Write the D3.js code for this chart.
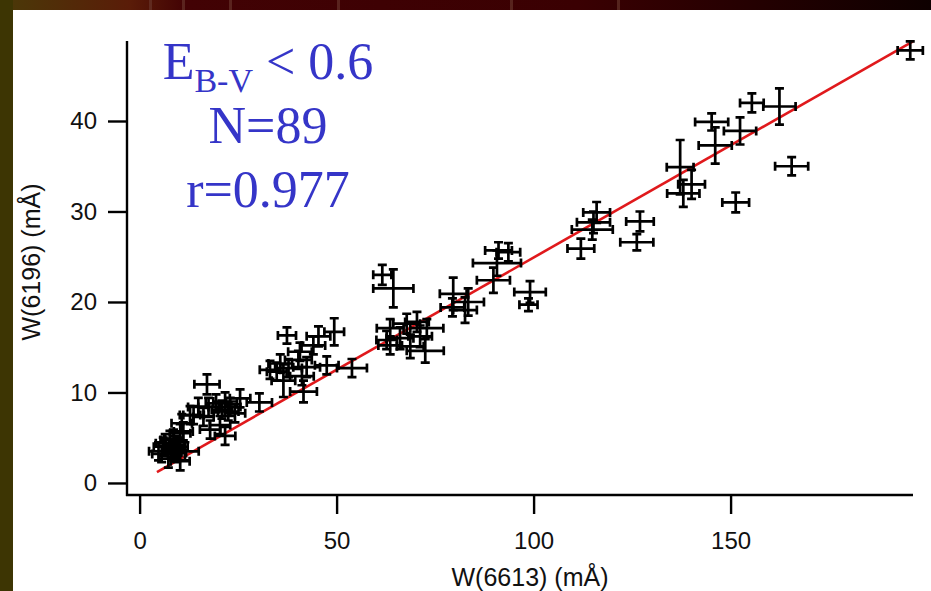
<!DOCTYPE html>
<html><head><meta charset="utf-8">
<script src="https://cdn.jsdelivr.net/npm/d3@7"></script>
<style>html,body{margin:0;padding:0;background:#fff;}svg{display:block;}</style>
</head><body>
<svg id="chart" width="931" height="591"></svg>
<script>
// W(6613) values (mÅ)
const xVals = [195.6,155.4,162.4,145.2,152.4,146.1,165.5,137.2,140.1,138.0,151.3,116.0,115.2,127.0,114.9,126.2,112.0,
  91.1,93.6,90.7,89.8,99.1,98.7,79.6,83.4,82.6,79.4,61.6,64.4,
  63.6,67.8,70.4,72.9,62.7,66.1,63.6,68.7,72.5,71.2,
  37.4,45.4,49.4,44.1,40.7,40.3,35.7,33.1,37.8,42.4,47.5,53.9,36.5,41.2,41.6,34.8,30.4,
  17.1,25.5,21.7,23.0,20.9,24.2,14.9,17.5,13.7,16.2,10.7,20.4,17.9,21.7,10.3,8.6,6.5,9.8,4.8,8.2,11.5,7.3,10.3,9.0,6.0,8.6,11.1,12.8,19.4,7.7,9.4,5.6,22.5];
// W(6196) values (mÅ)
const yVals = [47.8,42.0,41.6,39.9,38.9,37.3,35.0,34.9,33.0,32.0,31.0,29.9,28.8,28.9,28.0,26.6,25.9,
  25.7,25.5,24.3,22.4,21.1,19.7,20.9,20.0,19.1,19.4,23.0,21.5,
  17.1,17.6,17.8,17.1,15.8,16.0,15.2,15.1,14.6,16.2,
  16.3,16.2,16.7,15.2,14.5,13.6,13.2,12.5,12.7,12.8,13.0,12.7,11.3,11.8,10.1,12.3,8.9,
  10.9,9.35,9.0,8.4,8.1,7.7,8.4,8.4,7.5,7.3,6.6,6.4,5.9,5.2,5.5,4.9,4.4,4.0,3.5,3.5,3.5,2.7,2.4,4.2,4.0,3.8,5.7,7.5,8.8,4.75,3.3,3.2,7.9];
// x errors
const xErr = [3.2,3.0,4.1,4.2,4.1,4.2,4.2,3.4,3.4,4.1,3.4,3.4,4.2,3.5,5.2,4.2,3.4,
  3.4,3.0,6.1,4.2,4.0,2.3,3.4,4.0,3.0,3.0,2.3,5.1,
  3.4,3.4,3.0,4.2,2.6,3.4,3.0,3.4,4.7,3.0,
  2.3,3.0,2.5,3.0,3.0,3.4,3.0,2.6,3.4,3.4,3.0,3.8,3.0,3.0,3.4,2.5,3.2,
  3.2,2.6,3.0,2.6,2.6,2.6,2.6,2.6,2.6,2.6,2.6,2.6,2.6,2.6,2.6,2.4,2.4,2.4,2.4,2.4,3.5,2.4,2.4,2.4,2.4,2.4,2.4,2.6,2.6,2.4,2.4,2.4,2.6];
// y errors
const yErr = [1.0,1.05,2.0,0.95,1.5,2.0,1.0,3.0,1.6,1.5,1.1,1.15,1.2,1.1,1.1,0.9,1.1,
  0.9,1.0,1.4,1.4,1.2,0.7,1.8,1.5,1.4,1.0,1.1,2.1,
  1.0,1.1,1.1,1.0,1.0,1.2,1.0,1.3,1.3,1.2,
  0.9,1.1,1.5,1.0,1.0,1.0,1.0,1.0,1.0,1.1,1.0,1.0,1.8,1.0,1.2,1.0,1.0,
  1.1,1.0,1.0,1.0,1.0,1.0,1.0,1.0,1.0,1.0,1.0,1.0,1.0,1.0,1.0,1.0,1.0,1.0,1.0,1.0,1.0,1.0,1.0,1.0,1.0,0.9,1.0,1.0,1.0,1.0,1.0,0.9,1.0];
// fit line y = a + b x
const fitX = [4.4, 196.3];
const fitA = 0.11, fitB = 0.248;
const xTicks = [0, 50, 100, 150];
const yTicks = [0, 10, 20, 30, 40];
const annot = ["N=89", "r=0.977"];

const svg = d3.select("#chart");
// background frame
svg.append("rect").attr("x",0).attr("y",0).attr("width",931).attr("height",591).attr("fill","#fff");
const grad = svg.append("defs").append("linearGradient").attr("id","topg").attr("x1","0").attr("x2","1");
[[0,"#4a3a08"],[0.14,"#5a1c08"],[0.2,"#420204"],[0.62,"#3a0002"],[1,"#0e0000"]].forEach(s=>
  grad.append("stop").attr("offset",s[0]).attr("stop-color",s[1]));
svg.append("rect").attr("x",0).attr("y",0).attr("width",931).attr("height",10).attr("fill","url(#topg)");
[149,182,229,337,510,617].forEach(v=>svg.append("rect").attr("x",v).attr("y",0).attr("width",3).attr("height",10).attr("fill","#6a3a30").attr("opacity",0.6));
svg.append("rect").attr("x",0).attr("y",0).attr("width",13).attr("height",591).attr("fill","#3d3503");

const x = d3.scaleLinear().domain([-3.2, 196.3]).range([127, 913]);
const y = d3.scaleLinear().domain([-1.33, 48.84]).range([495, 41]);

const font = "Liberation Sans, Arial, sans-serif";
const xAxis = svg.append("g").attr("transform","translate(0,495)")
  .call(d3.axisBottom(x).tickValues(xTicks).tickSize(19).tickPadding(18).tickSizeOuter(0));
const yAxis = svg.append("g").attr("transform","translate(127,0)")
  .call(d3.axisLeft(y).tickValues(yTicks).tickSize(19).tickPadding(11).tickSizeOuter(0));
[xAxis,yAxis].forEach(g=>{
  g.select(".domain").attr("stroke","#000").attr("stroke-width",2.4);
  g.selectAll(".tick line").attr("stroke","#000").attr("stroke-width",2.4);
  g.selectAll(".tick text").attr("fill","#111").style("font-family",font).style("font-size","24px");
});
// extend domains to join corner
xAxis.select(".domain").attr("d","M126,0H913");
yAxis.select(".domain").attr("d","M0,41V496");

svg.append("text").attr("x",530).attr("y",586).attr("text-anchor","middle")
  .style("font-family",font).style("font-size","25px").attr("fill","#111").text("W(6613) (mÅ)");
svg.append("text").attr("transform","translate(40,262) rotate(-90)").attr("text-anchor","middle")
  .style("font-family",font).style("font-size","25px").attr("fill","#111").text("W(6196) (mÅ)");

// fit line
svg.append("line").attr("x1",x(fitX[0])).attr("y1",y(fitA+fitB*fitX[0]))
  .attr("x2",x(fitX[1])).attr("y2",y(fitA+fitB*fitX[1]))
  .attr("stroke","#e0191c").attr("stroke-width",2.6);

// error-bar crosses
const data = xVals.map((v,i)=>({x:v,y:yVals[i],ex:xErr[i],ey:yErr[i]}));
const cap = 4.5;
const pts = svg.append("g").attr("stroke","#000").attr("stroke-width",2.7).attr("fill","none");
data.forEach(d=>{
  const cx=x(d.x), cy=y(d.y), x0=x(d.x-d.ex), x1=x(d.x+d.ex), y0=y(d.y+d.ey), y1=y(d.y-d.ey);
  pts.append("path").attr("d",
    `M${x0},${cy}H${x1}M${cx},${y0}V${y1}`+
    `M${x0},${cy-cap}V${cy+cap}M${x1},${cy-cap}V${cy+cap}`+
    `M${cx-cap},${y0}H${cx+cap}M${cx-cap},${y1}H${cx+cap}`);
});

// annotation
const blue = "#3535c8";
const ann = svg.append("g").style("font-family","Liberation Serif, Times New Roman, serif").attr("fill",blue);
const t1 = ann.append("text").attr("x",268).attr("y",79).attr("text-anchor","middle").style("font-size","52px");
t1.append("tspan").text("E");
t1.append("tspan").attr("dy",13).style("font-size","34px").text("B-V");
t1.append("tspan").attr("dy",-13).text(" < 0.6");
annot.forEach((s,i)=>ann.append("text").attr("x",268).attr("y",143+64*i).attr("text-anchor","middle").style("font-size","52px").text(s));
</script>
</body></html>
